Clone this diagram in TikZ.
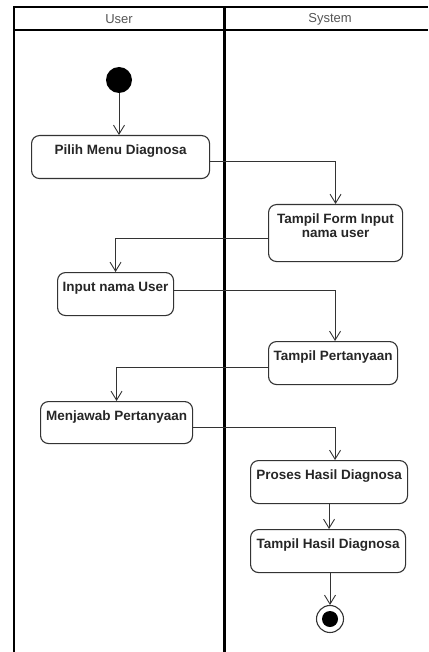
\documentclass[tikz,border=0pt]{standalone}
\usepackage{fontspec}
\setmainfont{Liberation Sans}
\usetikzlibrary{arrows.meta}
\definecolor{ink}{HTML}{333333}
\definecolor{lanetext}{HTML}{555555}
\tikzset{
  act/.style={draw=ink, line width=1.1pt, rounded corners=8pt, anchor=north west,
    font=\bfseries\fontsize{13.5}{14}\selectfont, text=black!85, inner xsep=0pt, inner ysep=4pt,
    text height=15pt, text depth=20pt},
  flow/.style={draw=ink, line width=0.9pt, -{Straight Barb[length=9pt,width=11pt]}},
  lanehead/.style={font=\fontsize{13}{15}\selectfont, text=lanetext},
  initial/.style={circle, fill=black, minimum size=26pt, inner sep=0pt},
  final/.style={circle, draw=ink, line width=1.1pt, minimum size=27pt, inner sep=0pt,
    path picture={\fill[black] (path picture bounding box.center) circle (8pt);}}
}
\begin{document}
\begin{tikzpicture}[x=1pt, y=-1pt]
\useasboundingbox (0,0) rectangle (428,652);
% swimlanes
\draw[line width=2pt] (14,652) -- (14,7) -- (428,7);
\draw[line width=2pt] (14,30) -- (428,30);
\draw[line width=3pt] (224,7) -- (224,652);
\node[lanehead] (userlane) at (119,19) {User};
\node[lanehead] (systemlane) at (330,19) {System};

\node[initial] (start) at (119,80) {};
\node[act, minimum width=178pt, minimum height=43pt] (pilih) at (31,135) {Pilih Menu Diagnosa};
\node[act, minimum width=134pt, minimum height=57pt, text depth=34pt] (form) at (268,204)
  {\begin{tabular}[t]{@{}c@{}}Tampil Form Input\\nama user\end{tabular}};
\node[act, minimum width=116pt, minimum height=43pt] (input) at (57,272) {Input nama User};
\node[act, minimum width=129pt, minimum height=43pt] (tanya) at (268,341) {Tampil Pertanyaan};
\node[act, minimum width=152pt, minimum height=42pt, text depth=19pt] (jawab) at (40,401) {Menjawab Pertanyaan};
\node[act, minimum width=157pt, minimum height=43pt] (proses) at (250,460) {Proses Hasil Diagnosa};
\node[act, minimum width=155pt, minimum height=43pt] (hasil) at (250,529) {Tampil Hasil Diagnosa};
\node[final] (end) at (330,619) {};

\draw[flow] (start) -- (start |- pilih.north);
\draw[flow] ([yshift=-4pt]pilih.east) -| (form.north);
\draw[flow] ([yshift=-5pt]form.west) -| (input.north);
\draw[flow] ([yshift=4pt]input.east) -| ([xshift=2pt]tanya.north);
\draw[flow] ([yshift=-4pt]tanya.west) -| (jawab.north);
\draw[flow] ([yshift=-5pt]jawab.east) -| ([xshift=6pt]proses.north);
\draw[flow] (proses.south) -- (proses.south |- hasil.north);
\draw[flow] (end |- hasil.south) -- (end);
\end{tikzpicture}
\end{document}
